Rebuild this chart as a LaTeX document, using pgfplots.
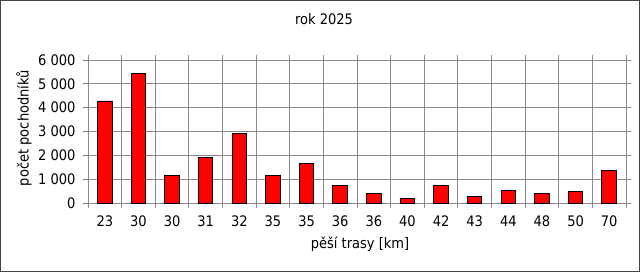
\documentclass[border=0pt]{standalone}
\usepackage{pgfplots}
\pgfplotsset{compat=1.18}
\usepackage{fontspec}
\setmainfont{DejaVu Sans Condensed}
\definecolor{gridgray}{HTML}{888888}
\definecolor{framegray}{HTML}{444444}
\begin{document}
\begin{tikzpicture}[font=\fontsize{14.5bp}{16bp}\selectfont]
\begin{axis}[
  at={(0,0)}, anchor=south west,
  scale only axis,
  width=538bp, height=143bp,
  xmin=-0.5, xmax=15.5,
  ymin=0, ymax=6000,
  ybar, bar width=14.5bp,
  xtick={0,...,15},
  xticklabels={23,30,30,31,32,35,35,36,36,40,42,43,44,48,50,70},
  minor xtick={-0.5,0.5,...,15.5},
  xminorgrids=true,
  major x tick style={draw=none},
  ytick={0,1000,...,6000},
  yticklabels={0,{1 000},{2 000},{3 000},{4 000},{5 000},{6 000}},
  ymajorgrids=true,
  tick align=outside,
  major tick length=5bp, minor tick length=5bp,
  tick style={gridgray, line width=0.8bp},
  grid style={gridgray, line width=0.8bp},
  axis line style={gridgray, line width=0.8bp},
  y tick label style={anchor=east, xshift=-4bp},
  x tick label style={anchor=north, yshift=-4bp},
  title={rok 2025},
  title style={at={(axis description cs:0.5,1)}, yshift=35bp, xshift=-33bp, anchor=center},
  xlabel={pěší trasy [km]},
  ylabel={počet pochodníků},
  every axis x label/.style={at={(axis description cs:0.5,0)}, yshift=-41bp, xshift=3bp, anchor=center},
  every axis y label/.style={at={(axis description cs:0,0.524)}, xshift=-64bp, rotate=90, anchor=center},
]
\addplot[fill=red, draw=black, line width=0.9bp] coordinates {
(0,4280) (1,5415) (2,1140) (3,1895) (4,2930) (5,1140) (6,1655) (7,745)
(8,395) (9,185) (10,745) (11,265) (12,520) (13,395) (14,478) (15,1375)
};
\end{axis}
\draw[framegray, line width=1bp] (-87.5bp,-68.5bp) rectangle (551.5bp,202.5bp);
\end{tikzpicture}
\end{document}
